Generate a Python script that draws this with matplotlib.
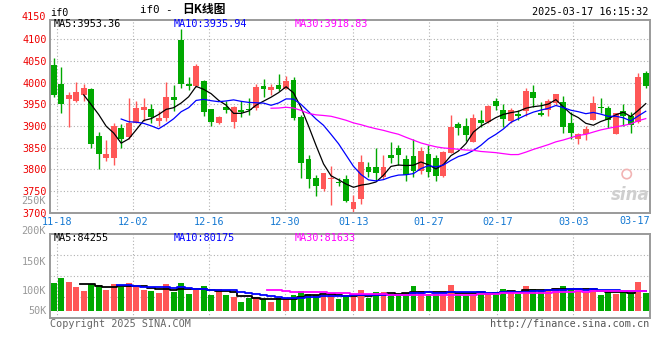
import numpy as np
import pandas as pd
import matplotlib
matplotlib.use('Agg')
import matplotlib.pyplot as plt

# IF0 daily candles, 2024-11-15 .. 2025-03-17
opens = [4041, 3997, 3962, 3958, 3972, 3985, 3877, 3827, 3827, 3895,
         3875, 3908, 3937, 3939, 3912, 3918, 3967, 4098, 3998, 3992,
         4004, 3939, 3906, 3943, 3909, 3938, 3940, 3941, 3992, 3983,
         3995, 3986, 4006, 3921, 3824, 3779, 3754, 3777, 3771, 3777,
         3709, 3731, 3806, 3806, 3783, 3832, 3849, 3824, 3830, 3796,
         3835, 3827, 3785, 3838, 3904, 3900, 3864, 3914, 3910, 3958,
         3938, 3912, 3928, 3935, 3978, 3929, 3937, 3952, 3955, 3906,
         3869, 3882, 3914, 3943, 3941, 3882, 3935, 3923, 3910, 4022]
highs = [4058, 4036, 3978, 4001, 3997, 3988, 3886, 3868, 3908, 3905,
         3965, 3958, 3965, 3951, 3935, 4001, 3995, 4124, 4014, 4044,
         4006, 3940, 3923, 3957, 3945, 3957, 3964, 3997, 4008, 3998,
         4020, 4015, 4012, 3925, 3834, 3787, 3792, 3807, 3780, 3786,
         3740, 3832, 3816, 3849, 3834, 3863, 3857, 3832, 3870, 3851,
         3856, 3833, 3842, 3925, 3910, 3918, 3927, 3938, 3948, 3964,
         3951, 3941, 3938, 3987, 3995, 3956, 3962, 3974, 3969, 3933,
         3883, 3900, 3969, 3964, 3946, 3929, 3950, 3933, 4022, 4027]
lows = [3968, 3931, 3898, 3955, 3958, 3850, 3801, 3820, 3811, 3850,
        3871, 3906, 3911, 3908, 3900, 3912, 3935, 3988, 3983, 3991,
        3924, 3899, 3905, 3930, 3895, 3921, 3926, 3938, 3966, 3972,
        3980, 3985, 3915, 3781, 3756, 3739, 3750, 3718, 3761, 3725,
        3701, 3720, 3783, 3773, 3777, 3815, 3809, 3772, 3783, 3790,
        3783, 3772, 3783, 3837, 3879, 3866, 3862, 3898, 3906, 3937,
        3898, 3906, 3914, 3924, 3943, 3924, 3922, 3948, 3885, 3869,
        3858, 3868, 3914, 3931, 3895, 3881, 3900, 3883, 3906, 3988]
closes = [3971, 3951, 3971, 3978, 3988, 3859, 3836, 3836, 3900, 3871,
          3908, 3941, 3944, 3921, 3919, 3967, 3960, 3998, 3993, 4039,
          3933, 3910, 3921, 3938, 3944, 3933, 3936, 3989, 3985, 3989,
          3986, 4004, 3918, 3815, 3777, 3762, 3791, 3781, 3769, 3728,
          3724, 3816, 3794, 3792, 3806, 3826, 3832, 3788, 3796, 3843,
          3793, 3785, 3839, 3898, 3896, 3879, 3918, 3908, 3945, 3947,
          3916, 3938, 3923, 3981, 3965, 3926, 3958, 3974, 3898, 3885,
          3882, 3892, 3952, 3941, 3915, 3929, 3922, 3902, 4012, 3993]
volumes = [101200, 110300, 103000, 93900, 86600, 99400, 97500, 88400, 99400, 94500,
           101200, 93300, 88400, 86600, 82900, 99400, 85300, 101200, 81100, 88400,
           95700, 79300, 90200, 79300, 75600, 66500, 74400, 75600, 71900, 67100,
           73200, 71300, 79300, 86600, 81700, 79300, 79300, 82900, 71900, 75600,
           75600, 88400, 74400, 84700, 84700, 81100, 79300, 82900, 95700, 86600,
           81100, 81100, 79300, 97500, 79300, 77400, 79300, 86600, 84700, 84700,
           90200, 86600, 81100, 95700, 90200, 86600, 88400, 92000, 95700, 90200,
           86600, 84700, 92000, 79300, 84700, 81100, 84700, 82900, 103000, 82900]

date_labels = ['11-18', '12-02', '12-16', '12-30', '01-13', '01-27', '02-17', '03-03', '03-17']
date_index = [1, 11, 21, 31, 40, 50, 59, 69, 79]
price_ticks = [3700, 3750, 3800, 3850, 3900, 3950, 4000, 4050, 4100]
vol_labels = ['200K', '150K', '100K', '50K']

RED = '#ff5757'
GREEN = '#00a800'
GRID = '#b0b0b0'
FRAME = '#9a9a9a'
MONO = 'DejaVu Sans Mono'
FS = 7.3
W, H = 660.0, 360.0

n = len(closes)
x = np.arange(n)
o = np.array(opens, float)
c = np.array(closes, float)
v = np.array(volumes) / 1000.0
col = np.where(c >= o, RED, GREEN)


def box(l, t, r, b):
    return [l / W, 1 - b / H, (r - l) / W, (b - t) / H]


def put(px, py, s, **kw):
    kw.setdefault('family', MONO)
    kw.setdefault('fontsize', FS)
    fig.text(px / W, 1 - py / H, s, va='center', **kw)


fig = plt.figure(figsize=(6.6, 3.6), dpi=100)
ax = fig.add_axes(box(50, 19.5, 649.5, 212.7))
axv = fig.add_axes(box(50, 234.3, 649.5, 318.3))

# sina spaces the date grid over n-1 slots, candles over n
grid_x = np.array(date_index) * n / (n - 1) - 0.54
dots = (0, (1, 2))

# ---- price panel
ax.set_xlim(-0.5, n - 0.5)
ax.set_ylim(3700, 4145.7)
for gx in grid_x[:-1]:
    ax.axvline(gx, color=GRID, lw=0.8, ls=dots, zorder=0)
for p in price_ticks[1:]:
    ax.axhline(p, color=GRID, lw=0.8, ls=dots, zorder=0)

ax.vlines(x, lows, highs, colors=col, lw=1.0, zorder=2)
body = np.maximum(np.abs(c - o), 1.5)
ax.bar(x, body, bottom=np.minimum(o, c), width=0.78, color=col, zorder=3)

cs = pd.Series(closes, dtype=float)
for w, lc in [(5, 'black'), (10, '#0000ff'), (30, '#ff00ff')]:
    ax.plot(x, cs.rolling(w).mean(), color=lc, lw=0.9, zorder=4)

ax.set_yticks(price_ticks)
ax.set_yticklabels([str(p) for p in price_ticks], family=MONO, fontsize=FS)
ax.tick_params(axis='y', length=0, pad=2.5, labelcolor='#ee0000')
ax.set_xticks(grid_x[:-1])
ax.set_xticklabels(date_labels[:-1], family=MONO, fontsize=FS)
ax.tick_params(axis='x', length=0, pad=3.2, labelcolor='#1478d2')
ax.text(n - 0.5, -0.043, date_labels[-1], transform=ax.get_xaxis_transform(),
        ha='right', va='center', family=MONO, fontsize=FS, color='#1478d2')

# watermark
ax.text(0.968, 0.09, 'sina', transform=ax.transAxes, ha='center', va='center',
        fontsize=12, fontstyle='italic', fontweight='bold', color='#cfcfcf', zorder=1)
ax.scatter([0.962], [0.2], transform=ax.transAxes, s=45, facecolors='none',
           edgecolors='#f2b4b4', lw=1.2, zorder=1)

# ---- volume panel
vlo, vhi = 36.65, 190.2
axv.set_xlim(-0.5, n - 0.5)
axv.set_ylim(vlo, vhi)
for gx in grid_x[:-1]:
    axv.axvline(gx, color=GRID, lw=0.8, ls=dots, zorder=0)
for f in (0.25, 0.5, 0.75):
    axv.axhline(vlo + f * (vhi - vlo), color=GRID, lw=0.8, ls=dots, zorder=0)

axv.bar(x, v - 50, bottom=50, width=0.78, color=col, zorder=3)
vs = pd.Series(v)
for w, lc in [(5, 'black'), (10, '#0000ff'), (30, '#ff00ff')]:
    axv.plot(x, vs.rolling(w).mean(), color=lc, lw=1.3, drawstyle='steps-mid', zorder=4)

axv.set_xticks([])
axv.set_yticks([140.9, 87.8, 51.2])
axv.set_yticklabels(vol_labels[1:], family=MONO, fontsize=FS)
axv.tick_params(axis='y', length=0, pad=2.5, labelcolor='#999999')

for a in (ax, axv):
    for s in a.spines.values():
        s.set_color(FRAME)
        s.set_linewidth(1.4)

# ---- texts
put(46, 17, '4150', ha='right', color='#ee0000')
put(46, 201, '250K', ha='right', color='#999999')
put(46, 230.7, vol_labels[0], ha='right', color='#999999')
put(50, 12.5, 'if0', ha='left', color='black')
put(140, 10, 'if0 -', ha='left', color='black', fontsize=7.8)
put(182, 9.5, '日K线图', ha='left', color='black', fontsize=8.5,
    family=['Noto Sans CJK SC', 'DejaVu Sans'], fontweight='bold')
put(648, 12, '2025-03-17 16:15:32', ha='right', color='black')

put(54, 24.3, 'MA5:3953.36', ha='left', color='black')
put(174, 24.3, 'MA10:3935.94', ha='left', color='#0000ff')
put(295, 24.3, 'MA30:3918.83', ha='left', color='#ff00ff')
put(54, 238.3, 'MA5:84255', ha='left', color='black')
put(174, 238.3, 'MA10:80175', ha='left', color='#0000ff')
put(295, 238.3, 'MA30:81633', ha='left', color='#ff00ff')

put(50, 324, 'Copyright 2025 SINA.COM', ha='left', color='#666666')
put(649, 324, 'http://finance.sina.com.cn', ha='right', color='#555555')

fig.savefig('out.png', dpi=100, facecolor='white')
